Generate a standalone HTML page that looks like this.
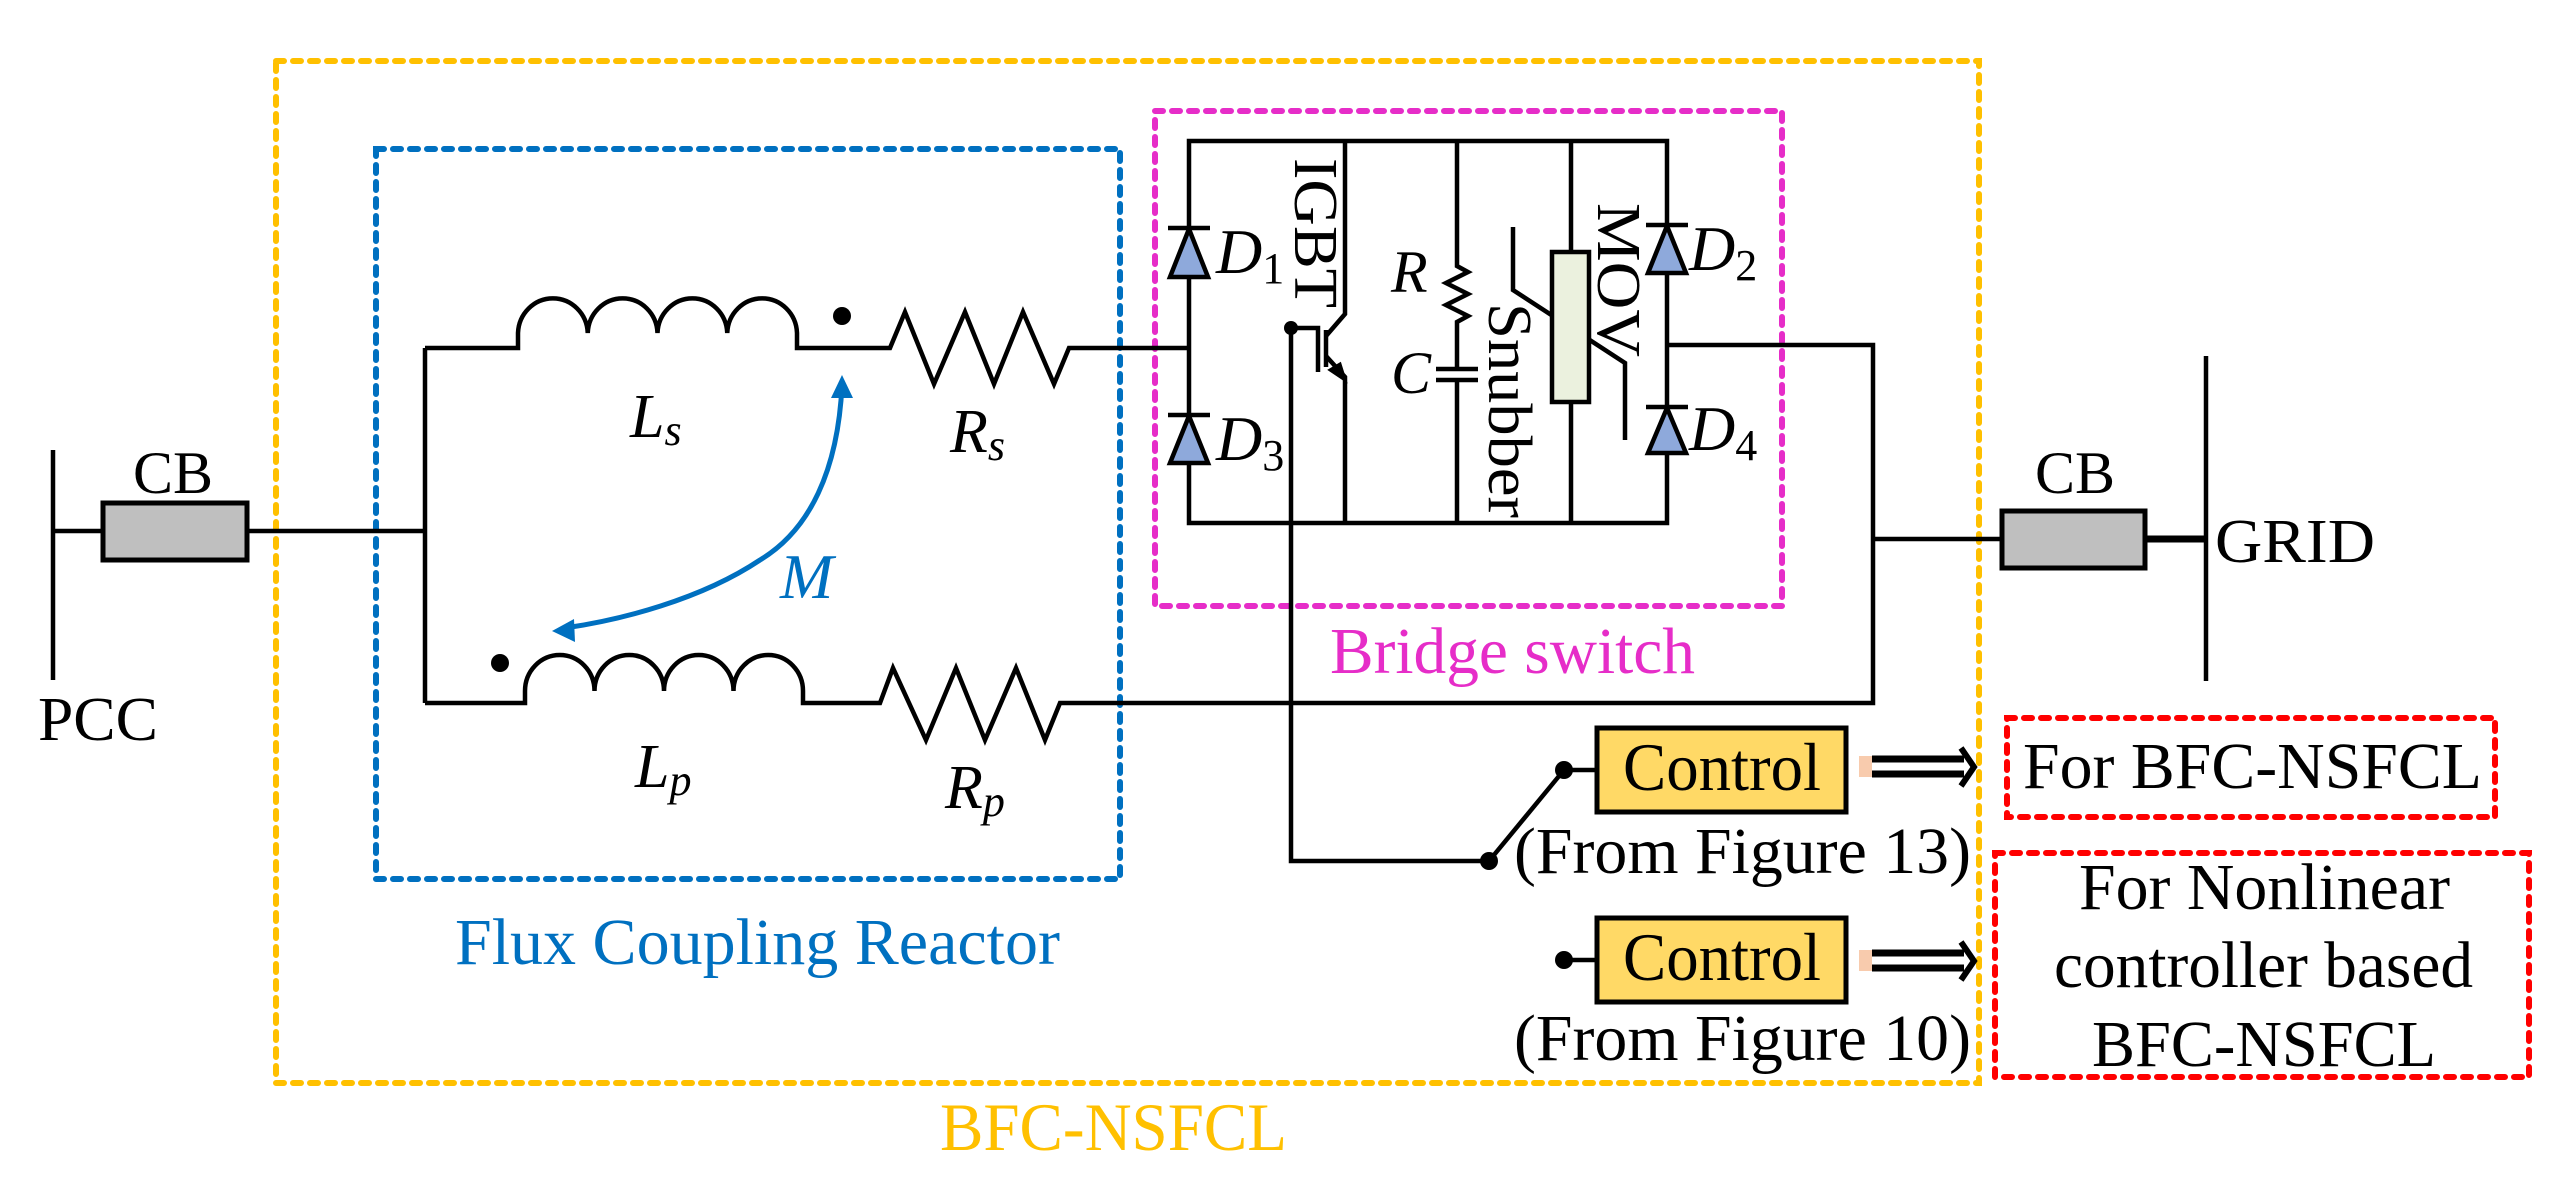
<!DOCTYPE html>
<html><head><meta charset="utf-8"><style>html,body{margin:0;padding:0;background:#fff;font-family:"Liberation Serif","Times New Roman",Times,"DejaVu Serif",serif;}svg{display:block;}text,tspan{font-family:"Liberation Serif","Times New Roman",Times,"DejaVu Serif",serif !important;}</style></head>
<body>
<svg width="2570" height="1198" viewBox="0 0 2570 1198" xmlns="http://www.w3.org/2000/svg" style="font-family:'Liberation Serif','Times New Roman',Times,'DejaVu Serif',serif">
<rect width="2570" height="1198" fill="#fff"/>
<g fill="none" stroke-width="6" stroke-linecap="round" stroke-dasharray="8 9">
<rect x="276" y="61" width="1703" height="1022" stroke="#FFC000"/>
<rect x="376" y="149" width="744" height="730" stroke="#0070C0"/>
<rect x="1155" y="111" width="627" height="495" stroke="#E62DC8"/>
<rect x="2007" y="718" width="488" height="99" stroke="#FF0000"/>
<rect x="1995" y="853" width="534" height="224" stroke="#FF0000"/>
</g>
<g fill="none" stroke="#000" stroke-width="4.5" stroke-linejoin="miter">
<line x1="53" y1="450" x2="53" y2="680"/>
<line x1="53" y1="531" x2="103" y2="531"/>
<line x1="247" y1="531" x2="425" y2="531"/>
<line x1="425" y1="348" x2="425" y2="703"/>
<path d="M425 348 H518 V333 A34.9 36 0 0 1 587.75 333 A34.9 36 0 0 1 657.5 333 A34.9 36 0 0 1 727.25 333 A34.9 36 0 0 1 797 333 V348 H890 L905 312 L934 384 L965 312 L994 384 L1023 312 L1054 384 L1069 348 H1189"/>
<path d="M425 703 H525 V691 A34.75 36 0 0 1 594.5 691 A34.75 36 0 0 1 664 691 A34.75 36 0 0 1 733.5 691 A34.75 36 0 0 1 803 691 V703 H880 L893 668 L926 740 L956 668 L985 740 L1016 668 L1045 740 L1060 703 H1873 V345 H1667"/>
<line x1="1873" y1="539" x2="2002" y2="539"/>
<line x1="2145" y1="539" x2="2206" y2="539" stroke-width="7"/>
<line x1="2206" y1="356" x2="2206" y2="681"/>
<path d="M1189 141 H1667 V523 H1189 Z"/>
<line x1="1345" y1="141" x2="1345" y2="308"/>
<path d="M1345 308 V314 L1326 336"/>
<path d="M1326 356 L1345 377 V523"/>
<line x1="1326" y1="330" x2="1326" y2="367"/>
<path d="M1291 328 H1318 V372"/>
<path d="M1291 328 V861 H1489"/>
<path d="M1457 141 V266 L1468 272 L1446 283 L1468 294 L1446 305 L1468 316 L1457 322 V369"/>
<line x1="1436" y1="369" x2="1478" y2="369"/>
<line x1="1436" y1="380" x2="1478" y2="380"/>
<line x1="1457" y1="380" x2="1457" y2="523"/>
<line x1="1571" y1="141" x2="1571" y2="252"/>
<line x1="1571" y1="402" x2="1571" y2="523"/>
<path d="M1513 227 V290 L1625 363 V440"/>
<line x1="1489" y1="861" x2="1564" y2="770"/>
<line x1="1564" y1="770" x2="1597" y2="770"/>
<line x1="1564" y1="960" x2="1597" y2="960"/>
</g>
<rect x="103" y="503" width="144" height="57" fill="#BFBFBF" stroke="#000" stroke-width="5"/>
<rect x="2002" y="511" width="143" height="57" fill="#BFBFBF" stroke="#000" stroke-width="5"/>
<rect x="1552" y="252" width="37" height="150" fill="#EBF1DE" stroke="#000" stroke-width="4.5"/>
<g fill="#8EA9DB" stroke="#000" stroke-width="4.5">
<path d="M1189 229 L1170 277 H1208 Z"/><line x1="1168" y1="228" x2="1210" y2="228"/>
<path d="M1189 416 L1170 463 H1208 Z"/><line x1="1168" y1="415" x2="1210" y2="415"/>
<path d="M1667 226 L1648 273 H1686 Z"/><line x1="1646" y1="225" x2="1688" y2="225"/>
<path d="M1667 408 L1648 453 H1686 Z"/><line x1="1646" y1="407" x2="1688" y2="407"/>
</g>
<path d="M1345 380 L1330 370 L1340 364 Z" fill="#000" stroke="#000" stroke-width="3"/>
<g fill="#000">
<circle cx="842" cy="316" r="9"/><circle cx="500" cy="663" r="9"/>
<circle cx="1291" cy="328" r="7"/>
<circle cx="1489" cy="861" r="9"/><circle cx="1564" cy="770" r="9"/><circle cx="1564" cy="960" r="9"/>
</g>
<path d="M842 385 C838 470 810 530 760 560 C700 600 620 620 565 628" fill="none" stroke="#0070C0" stroke-width="5"/>
<path d="M842 375 L831 398 L853 398 Z" fill="#0070C0"/>
<path d="M552 631 L574 619 L575 642 Z" fill="#0070C0"/>
<rect x="1597" y="728" width="249" height="84" fill="#FFD966" stroke="#000" stroke-width="5"/>
<rect x="1597" y="918" width="249" height="84" fill="#FFD966" stroke="#000" stroke-width="5"/>
<g>
<rect x="1859" y="756" width="13" height="21" fill="#F8CBAD"/>
<path d="M1872 759 H1964 M1872 774 H1964" stroke="#000" stroke-width="7"/>
<path d="M1961 748 L1974 767 L1961 786" fill="none" stroke="#000" stroke-width="6"/>
<rect x="1859" y="950" width="13" height="21" fill="#F8CBAD"/>
<path d="M1872 953 H1964 M1872 968 H1964" stroke="#000" stroke-width="7"/>
<path d="M1961 942 L1974 961 L1961 980" fill="none" stroke="#000" stroke-width="6"/>
</g>
<g fill="#000" font-size="62" font-family="Liberation Serif, Times New Roman, serif">
<text x="173" y="493" text-anchor="middle" font-size="60">CB</text>
<text x="2075" y="493" text-anchor="middle" font-size="60">CB</text>
<text x="38" y="740" textLength="120" lengthAdjust="spacingAndGlyphs">PCC</text>
<text x="2215" y="562" textLength="160" lengthAdjust="spacingAndGlyphs">GRID</text>
<g font-style="italic">
<text x="630" y="437">L<tspan font-size="44" dy="8">s</tspan></text>
<text x="950" y="452">R<tspan font-size="44" dy="8">s</tspan></text>
<text x="635" y="787">L<tspan font-size="44" dy="8">p</tspan></text>
<text x="945" y="808">R<tspan font-size="44" dy="8">p</tspan></text>
<text x="1216" y="273" font-size="64">D<tspan font-style="normal" font-size="44" dy="10">1</tspan></text>
<text x="1216" y="460" font-size="64">D<tspan font-style="normal" font-size="44" dy="10">3</tspan></text>
<text x="1689" y="270" font-size="64">D<tspan font-style="normal" font-size="44" dy="10">2</tspan></text>
<text x="1689" y="450" font-size="64">D<tspan font-style="normal" font-size="44" dy="10">4</tspan></text>
<text x="1391" y="292" font-size="60">R</text>
<text x="1391" y="393" font-size="60">C</text>
<text x="780" y="598" font-size="64" fill="#0070C0">M</text>
</g>
<text transform="translate(1295,158) rotate(90)" font-size="62" textLength="150" lengthAdjust="spacingAndGlyphs">IGBT</text>
<text transform="translate(1489,303) rotate(90)" font-size="62" textLength="215" lengthAdjust="spacingAndGlyphs">Snubber</text>
<text transform="translate(1598,203) rotate(90)" font-size="62" textLength="154" lengthAdjust="spacingAndGlyphs">MOV</text>
<text x="1623" y="790" font-size="68" textLength="198" lengthAdjust="spacingAndGlyphs">Control</text>
<text x="1623" y="980" font-size="68" textLength="198" lengthAdjust="spacingAndGlyphs">Control</text>
<text x="1514" y="873" font-size="66" textLength="457" lengthAdjust="spacingAndGlyphs">(From Figure 13)</text>
<text x="1514" y="1060" font-size="66" textLength="457" lengthAdjust="spacingAndGlyphs">(From Figure 10)</text>
<text x="2023" y="788" font-size="66" textLength="459" lengthAdjust="spacingAndGlyphs">For BFC-NSFCL</text>
<text x="2079" y="909" font-size="66" textLength="371" lengthAdjust="spacingAndGlyphs">For Nonlinear</text>
<text x="2054" y="987" font-size="66" textLength="419" lengthAdjust="spacingAndGlyphs">controller based</text>
<text x="2092" y="1066" font-size="66" textLength="344" lengthAdjust="spacingAndGlyphs">BFC-NSFCL</text>
<text x="455" y="964" font-size="66" fill="#0070C0" textLength="605" lengthAdjust="spacingAndGlyphs">Flux Coupling Reactor</text>
<text x="1330" y="673" font-size="66" fill="#E62DC8" textLength="365" lengthAdjust="spacingAndGlyphs">Bridge switch</text>
<text x="940" y="1150" font-size="68" fill="#FFC000" textLength="347" lengthAdjust="spacingAndGlyphs">BFC-NSFCL</text>
</g>
</svg>
</body></html>
